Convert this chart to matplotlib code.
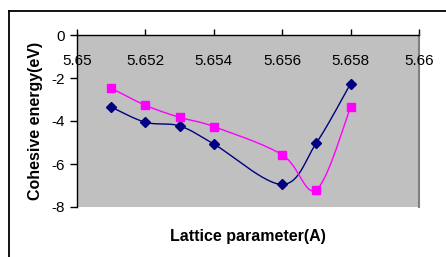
import matplotlib
matplotlib.use("Agg")
import matplotlib.pyplot as plt
import matplotlib.lines as mlines
import numpy as np

plt.rcParams['font.family'] = ['Liberation Sans', 'DejaVu Sans']

# lattice parameter (A)
lattice = [5.651, 5.652, 5.653, 5.654, 5.656, 5.657, 5.658]
# cohesive energy (eV), two series
energy_blue = [-3.35, -4.06, -4.23, -5.07, -6.95, -5.02, -2.26]
energy_pink = [-2.47, -3.27, -3.83, -4.26, -5.57, -7.19, -3.36]

xticks = [5.65, 5.652, 5.654, 5.656, 5.658, 5.66]
xtick_labels = ['5.65', '5.652', '5.654', '5.656', '5.658', '5.66']
yticks = [0, -2, -4, -6, -8]


def smooth(x, y, n=30):
    # Excel-like smoothed line: Catmull-Rom style bezier segments
    x = np.asarray(x, float)
    y = np.asarray(y, float)
    px = np.concatenate([[x[0]], x, [x[-1]]])
    py = np.concatenate([[y[0]], y, [y[-1]]])
    xs, ys = [], []
    t = np.linspace(0, 1, n)
    for i in range(1, len(px) - 2):
        p0 = np.array([px[i], py[i]])
        p3 = np.array([px[i + 1], py[i + 1]])
        c1 = p0 + (np.array([px[i + 1], py[i + 1]]) - np.array([px[i - 1], py[i - 1]])) / 6
        c2 = p3 - (np.array([px[i + 2], py[i + 2]]) - np.array([px[i], py[i]])) / 6
        b = ((1 - t) ** 3)[:, None] * p0 + (3 * (1 - t) ** 2 * t)[:, None] * c1 \
            + (3 * (1 - t) * t ** 2)[:, None] * c2 + (t ** 3)[:, None] * p3
        xs.extend(b[:, 0])
        ys.extend(b[:, 1])
    return xs, ys


fig = plt.figure(figsize=(4.46, 2.57), dpi=100)
ax = fig.add_axes([77 / 446, 1 - 207 / 257, 342 / 446, 172 / 257])
ax.set_facecolor('#C0C0C0')

# outer chart border (only top/left visible in the crop)
bx, by = 8.5 / 446, 1 - 10.5 / 257
fig.lines.append(mlines.Line2D([bx, 1.05], [by, by], transform=fig.transFigure,
                               color='black', lw=1.3))
fig.lines.append(mlines.Line2D([bx, bx], [by, -0.05], transform=fig.transFigure,
                               color='black', lw=1.3))

sx, sy = smooth(lattice, energy_blue)
ax.plot(sx, sy, color='#000080', lw=1.0)
ax.plot(lattice, energy_blue, ls='none', marker='D', ms=5, color='#000080')
sx, sy = smooth(lattice, energy_pink)
ax.plot(sx, sy, color='#FF00FF', lw=1.0)
ax.plot(lattice, energy_pink, ls='none', marker='s', ms=5.5, color='#FF00FF')

ax.set_xlim(5.65, 5.66)
ax.set_ylim(-8, 0)
ax.set_yticks(yticks)
ax.set_yticklabels([str(v) for v in yticks])
ax.set_xticks(xticks)
ax.tick_params(axis='x', top=True, bottom=False, labeltop=False, labelbottom=False,
               direction='out', length=4, width=1)
ax.tick_params(axis='y', direction='out', length=5, width=1, labelsize=11, pad=4)
for xv, lab in zip(xticks, xtick_labels):
    ax.text(xv, 0.89, lab, transform=ax.get_xaxis_transform(), ha='center', va='top',
            fontsize=11)

ax.spines['bottom'].set_visible(False)
ax.spines['right'].set_color('#808080')
ax.spines['right'].set_linewidth(1.5)
ax.spines['top'].set_linewidth(1.0)
ax.spines['left'].set_linewidth(1.0)

ax.set_ylabel('Cohesive energy(eV)', fontsize=11.5, fontweight='bold', labelpad=6)
ax.set_xlabel('Lattice parameter(A)', fontsize=11.5, fontweight='bold', labelpad=16)

fig.savefig('out.png', dpi=100)
